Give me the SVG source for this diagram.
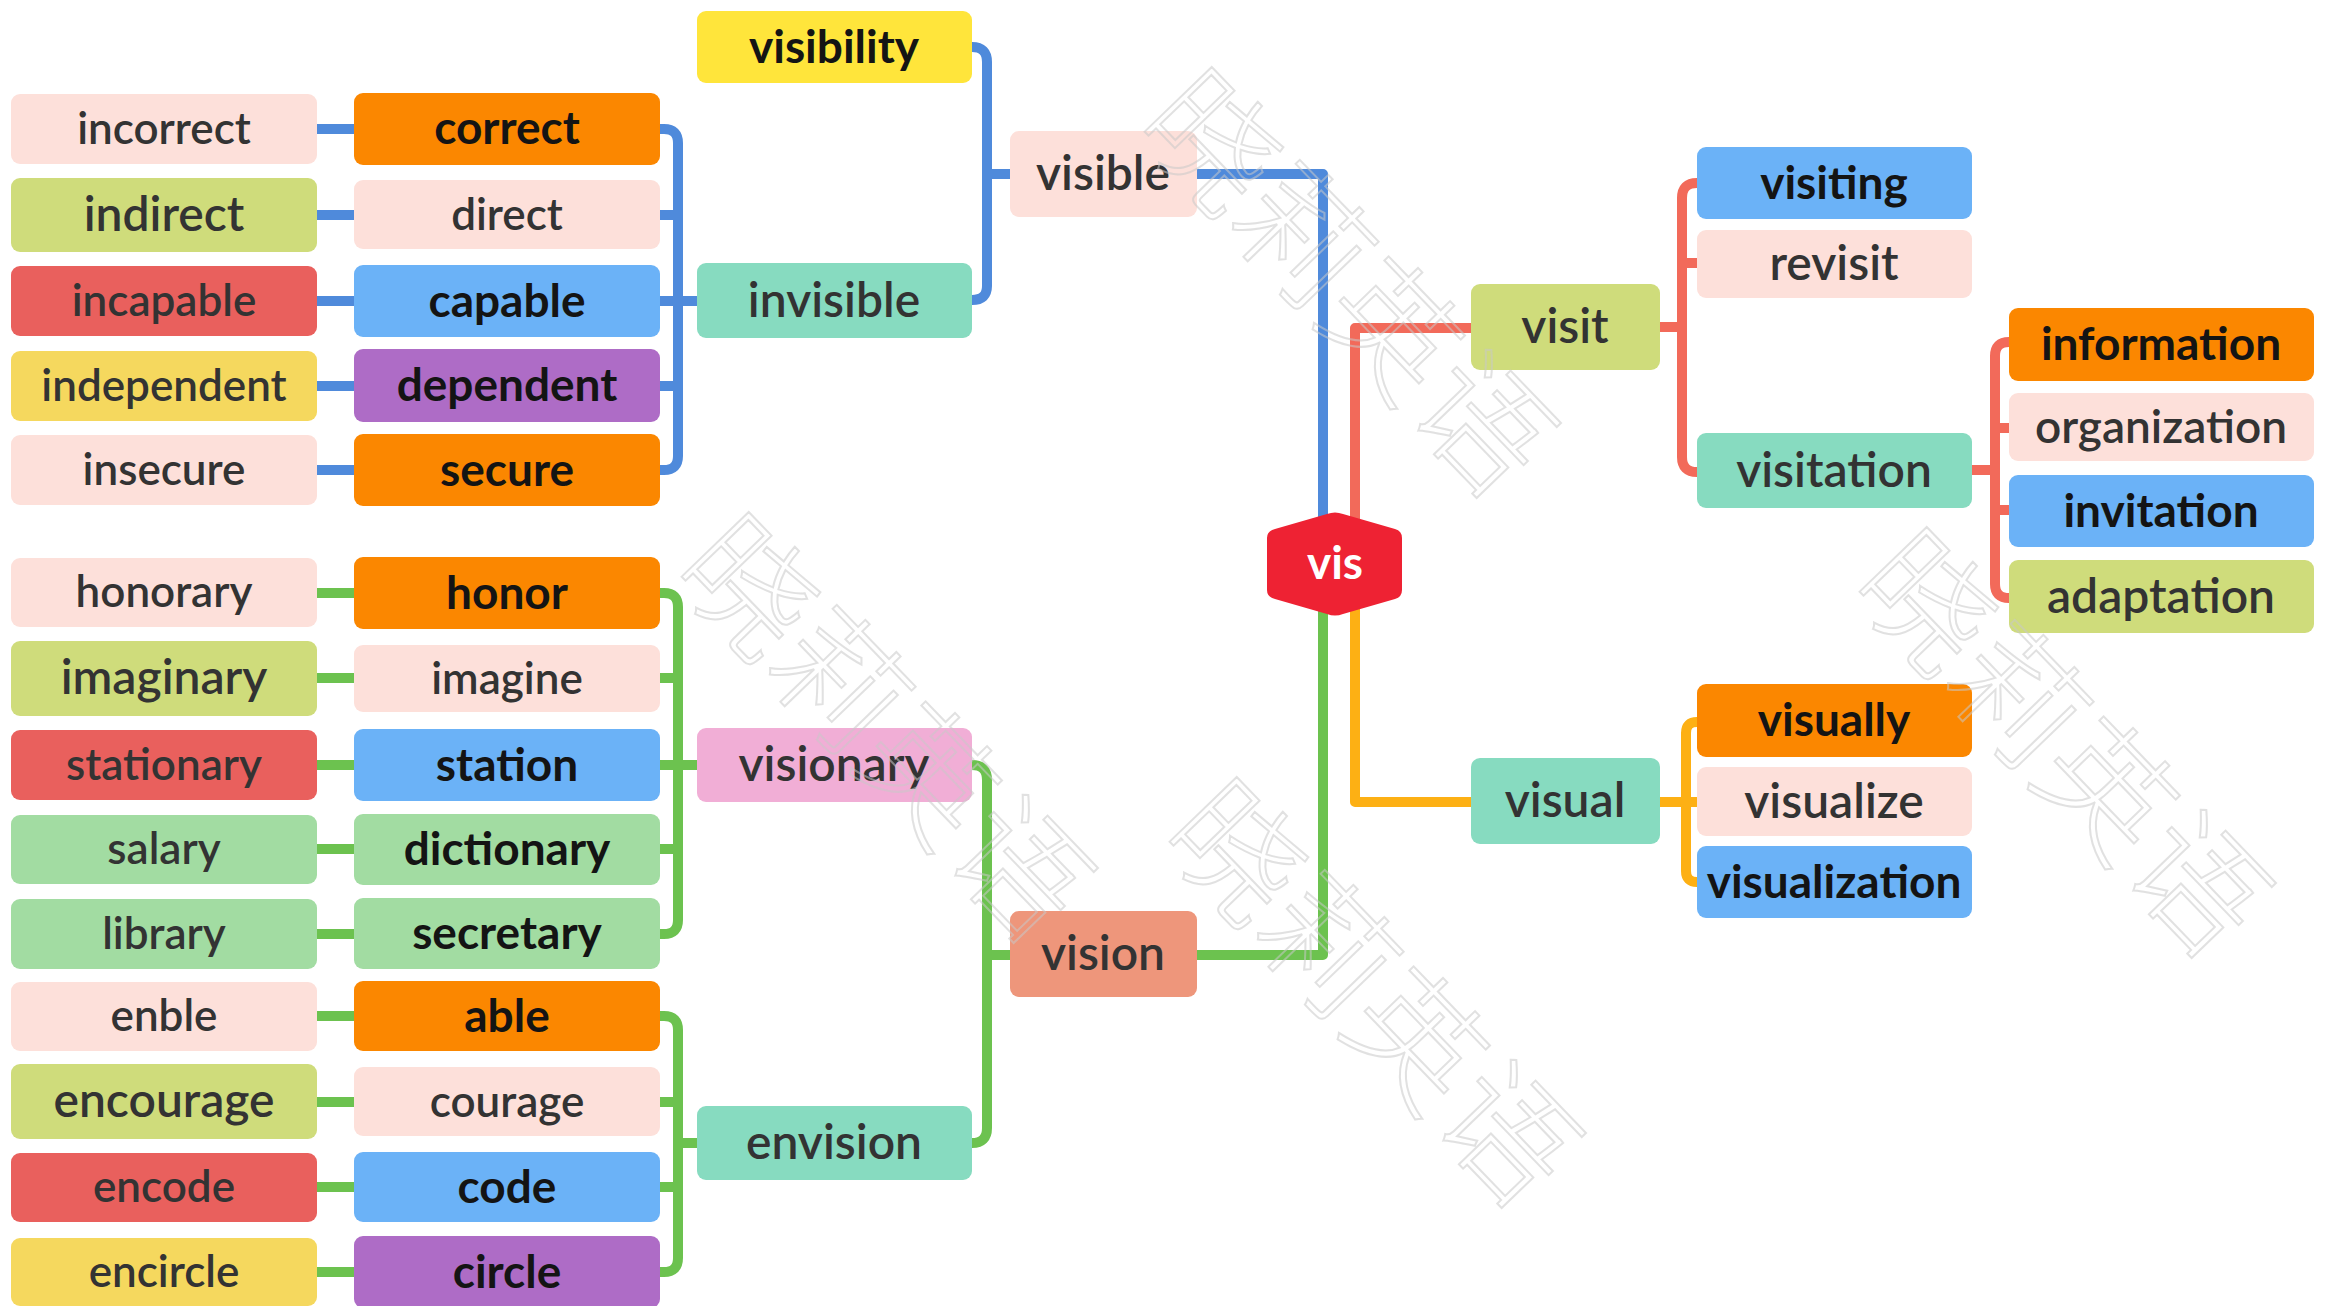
<svg xmlns="http://www.w3.org/2000/svg" width="2325" height="1306" viewBox="0 0 2325 1306">
<style>
rect{rx:9px;ry:9px}
.pale{fill:#FDE0DA}.orange{fill:#FB8700}.lime{fill:#CFDC7B}.red{fill:#E9605D}.yel{fill:#F5D85E}.ybr{fill:#FFE53B}
.purple{fill:#AE6CC6}.blue{fill:#6BB2F7}.mint{fill:#87DBC0}.lgreen{fill:#A2DCA2}.pink{fill:#F1AED6}.salmon{fill:#EE967B}
text{font-family:Lato,"Liberation Sans",sans-serif;text-anchor:middle}
.g{fill:#333333;font-weight:600}.k{fill:#141414;font-weight:700}
.s1{font-size:44px}.s2{font-size:48px}.s3{font-size:46px}
.c path{fill:none;stroke-width:10;stroke-linejoin:round}
.cb{stroke:#4F8ADB}.cr{stroke:#F26A5A}.co{stroke:#FDB014}.cg{stroke:#6CC24F}
.wm{font-family:"Noto Sans CJK SC",sans-serif;font-size:130px;font-weight:300;fill:none;stroke:#c8c8c8;stroke-width:2;stroke-opacity:0.55}
</style>
<rect x="0" y="0" width="2325" height="1306" fill="#ffffff" style="rx:0;ry:0"/>
<g id="connectors" class="c">
<path class="cb" d="M317,129H354M317,215H354M317,301H354M317,386H354M317,470H354"/>
<path class="cb" d="M660,129H664Q678,129 678,143V456Q678,470 664,470H660M660,215H678M660,386H678M660,301H697"/>
<path class="cb" d="M972,47Q987,47 987,62V286Q987,300 972,300M987,174H1010"/>
<path class="cb" d="M1197,174H1323V540"/>
<path class="cr" d="M1355,540V328H1471"/>
<path class="cr" d="M1660,327H1682M1697,183Q1682,183 1682,198V457Q1682,472 1697,472M1682,263H1697"/>
<path class="cr" d="M1972,470H1995M2009,342Q1995,342 1995,356V584Q1995,598 2009,598M1995,428H2009M1995,510H2009"/>
<path class="co" d="M1355,590V802H1471"/>
<path class="co" d="M1660,802H1697M1697,722Q1686,722 1686,733V871Q1686,882 1697,882"/>
<path class="cg" d="M1323,590V955H1197"/>
<path class="cg" d="M972,765Q987,765 987,780V1128Q987,1143 972,1143M987,955H1010"/>
<path class="cg" d="M660,593H664Q678,593 678,607V920Q678,934 664,934H660M660,678H678M660,849H678M660,765H697"/>
<path class="cg" d="M660,1016H664Q678,1016 678,1030V1258Q678,1272 664,1272H660M660,1102H678M660,1187H678M678,1143H697"/>
<path class="cg" d="M317,593H354M317,678H354M317,765H354M317,849H354M317,934H354M317,1016H354M317,1102H354M317,1187H354M317,1272H354"/>
</g>
<g id="n-incorrect"><rect class="pale" x="11" y="94" width="306" height="70"/><text class="g s1" x="164" y="144">incorrect</text></g>
<g id="n-indirect"><rect class="lime" x="11" y="178" width="306" height="74"/><text class="g s2" x="164" y="231">indirect</text></g>
<g id="n-incapable"><rect class="red" x="11" y="266" width="306" height="70"/><text class="g s1" x="164" y="316">incapable</text></g>
<g id="n-independent"><rect class="yel" x="11" y="351" width="306" height="70"/><text class="g s1" x="164" y="401">independent</text></g>
<g id="n-insecure"><rect class="pale" x="11" y="435" width="306" height="70"/><text class="g s1" x="164" y="485">insecure</text></g>
<g id="n-honorary"><rect class="pale" x="11" y="558" width="306" height="69"/><text class="g s1" x="164" y="607">honorary</text></g>
<g id="n-imaginary"><rect class="lime" x="11" y="641" width="306" height="75"/><text class="g s2" x="164" y="694">imaginary</text></g>
<g id="n-stationary"><rect class="red" x="11" y="730" width="306" height="70"/><text class="g s1" x="164" y="780">stationary</text></g>
<g id="n-salary"><rect class="lgreen" x="11" y="815" width="306" height="69"/><text class="g s1" x="164" y="864">salary</text></g>
<g id="n-library"><rect class="lgreen" x="11" y="899" width="306" height="70"/><text class="g s1" x="164" y="949">library</text></g>
<g id="n-enble"><rect class="pale" x="11" y="982" width="306" height="69"/><text class="g s1" x="164" y="1031">enble</text></g>
<g id="n-encourage"><rect class="lime" x="11" y="1064" width="306" height="75"/><text class="g s2" x="164" y="1117">encourage</text></g>
<g id="n-encode"><rect class="red" x="11" y="1153" width="306" height="69"/><text class="g s1" x="164" y="1202">encode</text></g>
<g id="n-encircle"><rect class="yel" x="11" y="1238" width="306" height="68"/><text class="g s1" x="164" y="1287">encircle</text></g>
<g id="n-correct"><rect class="orange" x="354" y="93" width="306" height="72"/><text class="k s3" x="507" y="144">correct</text></g>
<g id="n-direct"><rect class="pale" x="354" y="180" width="306" height="69"/><text class="g s1" x="507" y="230">direct</text></g>
<g id="n-capable"><rect class="blue" x="354" y="265" width="306" height="72"/><text class="k s3" x="507" y="317">capable</text></g>
<g id="n-dependent"><rect class="purple" x="354" y="349" width="306" height="73"/><text class="k s3" x="507" y="401">dependent</text></g>
<g id="n-secure"><rect class="orange" x="354" y="434" width="306" height="72"/><text class="k s3" x="507" y="486">secure</text></g>
<g id="n-honor"><rect class="orange" x="354" y="557" width="306" height="72"/><text class="k s3" x="507" y="609">honor</text></g>
<g id="n-imagine"><rect class="pale" x="354" y="645" width="306" height="67"/><text class="g s1" x="507" y="694">imagine</text></g>
<g id="n-station"><rect class="blue" x="354" y="729" width="306" height="72"/><text class="k s3" x="507" y="781">station</text></g>
<g id="n-dictionary"><rect class="lgreen" x="354" y="814" width="306" height="71"/><text class="k s3" x="507" y="865">dictionary</text></g>
<g id="n-secretary"><rect class="lgreen" x="354" y="898" width="306" height="71"/><text class="k s3" x="507" y="949">secretary</text></g>
<g id="n-able"><rect class="orange" x="354" y="981" width="306" height="70"/><text class="k s3" x="507" y="1032">able</text></g>
<g id="n-courage"><rect class="pale" x="354" y="1067" width="306" height="69"/><text class="g s1" x="507" y="1117">courage</text></g>
<g id="n-code"><rect class="blue" x="354" y="1152" width="306" height="70"/><text class="k s3" x="507" y="1203">code</text></g>
<g id="n-circle"><rect class="purple" x="354" y="1236" width="306" height="72"/><text class="k s3" x="507" y="1288">circle</text></g>
<g id="n-visibility"><rect class="ybr" x="697" y="11" width="275" height="72"/><text class="k s3" x="834" y="63">visibility</text></g>
<g id="n-invisible"><rect class="mint" x="697" y="263" width="275" height="75"/><text class="g s2" x="834" y="317">invisible</text></g>
<g id="n-visionary"><rect class="pink" x="697" y="728" width="275" height="74"/><text class="g s2" x="834" y="781">visionary</text></g>
<g id="n-envision"><rect class="mint" x="697" y="1106" width="275" height="74"/><text class="g s2" x="834" y="1159">envision</text></g>
<g id="n-visible"><rect class="pale" x="1010" y="131" width="187" height="86"/><text class="g s2" x="1103" y="190">visible</text></g>
<g id="n-vision"><rect class="salmon" x="1010" y="911" width="187" height="86"/><text class="g s2" x="1103" y="970">vision</text></g>
<g id="n-vis"><path d="M1327,514Q1335,511 1343,514L1395,529Q1402,531 1402,538V590Q1402,597 1395,599L1343,614Q1335,617 1327,614L1275,599Q1267,597 1267,590V538Q1267,531 1275,529Z" fill="#EE2233"/><text x="1335" y="579" style="font-size:46px;font-weight:700;fill:#ffffff">vis</text></g>
<g id="n-visit"><rect class="lime" x="1471" y="284" width="189" height="86"/><text class="g s2" x="1565" y="343">visit</text></g>
<g id="n-visual"><rect class="mint" x="1471" y="758" width="189" height="86"/><text class="g s2" x="1565" y="817">visual</text></g>
<g id="n-visiting"><rect class="blue" x="1697" y="147" width="275" height="72"/><text class="k s3" x="1834" y="199">visiting</text></g>
<g id="n-revisit"><rect class="pale" x="1697" y="230" width="275" height="68"/><text class="g s2" x="1834" y="280">revisit</text></g>
<g id="n-visitation"><rect class="mint" x="1697" y="433" width="275" height="75"/><text class="g s2" x="1834" y="487">visitation</text></g>
<g id="n-visually"><rect class="orange" x="1697" y="684" width="275" height="73"/><text class="k s3" x="1834" y="736">visually</text></g>
<g id="n-visualize"><rect class="pale" x="1697" y="767" width="275" height="69"/><text class="g s2" x="1834" y="818">visualize</text></g>
<g id="n-visualization"><rect class="blue" x="1697" y="846" width="275" height="72"/><text class="k s3" x="1834" y="898">visualization</text></g>
<g id="n-information"><rect class="orange" x="2009" y="308" width="305" height="73"/><text class="k s3" x="2161" y="360">information</text></g>
<g id="n-organization"><rect class="pale" x="2009" y="393" width="305" height="68"/><text class="g s3" x="2161" y="443">organization</text></g>
<g id="n-invitation"><rect class="blue" x="2009" y="475" width="305" height="72"/><text class="k s3" x="2161" y="527">invitation</text></g>
<g id="n-adaptation"><rect class="lime" x="2009" y="560" width="305" height="73"/><text class="g s2" x="2161" y="613">adaptation</text></g>
<g id="watermark">
<text class="wm" x="1345" y="329" transform="rotate(46 1345 285)">晓莉英语</text>
<text class="wm" x="882" y="774" transform="rotate(46 882 730)">晓莉英语</text>
<text class="wm" x="1370" y="1039" transform="rotate(46 1370 995)">晓莉英语</text>
<text class="wm" x="2060" y="789" transform="rotate(46 2060 745)">晓莉英语</text>
</g>
</svg>
